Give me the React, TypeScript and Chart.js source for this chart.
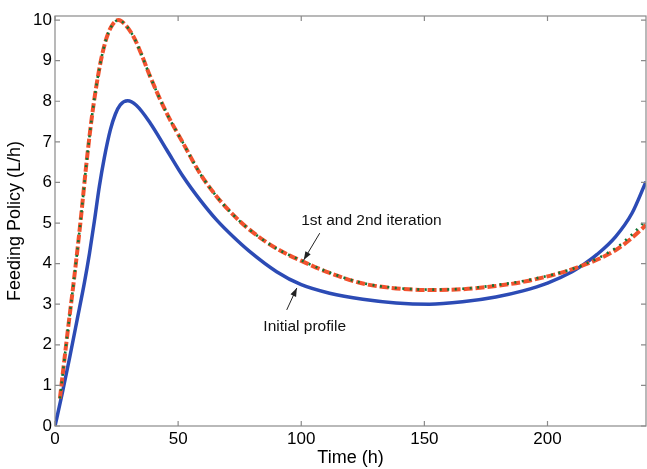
import React, { useEffect, useRef } from "react";
import { Chart, registerables } from "chart.js";

Chart.register(...registerables);

// Time (h) sample points for the initial profile
const timeInitial = [0, 3, 6, 9, 12, 14, 16, 18, 20, 22.5, 24.5, 26.5, 29.5, 33, 38.7, 45.4, 52.1, 58.9, 65.7, 72.4, 79, 90, 100, 111.5, 125, 138.5, 152, 165.5, 179, 190, 200, 210, 214, 220, 227.6, 234.3, 240];
const initialProfile = [0, 0.82, 1.7, 2.62, 3.55, 4.25, 5.05, 5.9, 6.6, 7.3, 7.68, 7.91, 8.01, 7.9, 7.46, 6.8, 6.14, 5.57, 5.07, 4.66, 4.3, 3.8, 3.48, 3.27, 3.12, 3.03, 3.0, 3.06, 3.18, 3.33, 3.52, 3.8, 3.95, 4.22, 4.66, 5.24, 6.02];

// Time (h) sample points for the 1st / 2nd iteration
const timeIter = [2, 5, 7.6, 10.3, 13, 15.5, 18.4, 21.1, 23.5, 25.8, 28, 31.9, 35, 38.7, 45.4, 52.1, 58.9, 65.7, 72.4, 79.1, 90, 100.7, 111.5, 125, 138.5, 152, 165.5, 179, 192.5, 212.8, 227.6, 234, 240];
const iteration1 = [0.68, 2.25, 3.55, 5.0, 6.6, 7.85, 8.93, 9.59, 9.9, 10.0, 9.92, 9.59, 9.17, 8.6, 7.7, 6.96, 6.22, 5.65, 5.2, 4.83, 4.37, 4.05, 3.77, 3.51, 3.39, 3.35, 3.37, 3.45, 3.58, 3.92, 4.33, 4.62, 4.95];
const iteration2 = [0.68, 2.25, 3.55, 5.0, 6.6, 7.85, 8.93, 9.59, 9.9, 10.0, 9.92, 9.59, 9.17, 8.6, 7.7, 6.96, 6.22, 5.65, 5.2, 4.83, 4.37, 4.06, 3.78, 3.52, 3.4, 3.36, 3.38, 3.47, 3.6, 3.93, 4.38, 4.7, 5.07];

const xTicks = [0, 50, 100, 150, 200];
const yTicks = [0, 1, 2, 3, 4, 5, 6, 7, 8, 9, 10];

const labelIter = "1st and 2nd iteration";
const labelInit = "Initial profile";

const pts = (xs: number[], ys: number[]) => xs.map((x, i) => ({ x, y: ys[i] }));

const frame = {
  id: "frame",
  afterDatasetsDraw(chart: any) {
    const { ctx, chartArea: a, scales } = chart;
    const xs = scales.x;
    const ys = scales.y;
    ctx.save();
    ctx.strokeStyle = "#8a8a8a";
    ctx.lineWidth = 1.2;
    ctx.strokeRect(a.left, a.top, a.right - a.left, a.bottom - a.top);
    const L = 5;
    ctx.beginPath();
    xTicks.forEach((v) => {
      const p = xs.getPixelForValue(v);
      ctx.moveTo(p, a.bottom);
      ctx.lineTo(p, a.bottom - L);
      ctx.moveTo(p, a.top);
      ctx.lineTo(p, a.top + L);
    });
    yTicks.forEach((v) => {
      const p = ys.getPixelForValue(v);
      ctx.moveTo(a.left, p);
      ctx.lineTo(a.left + L, p);
      ctx.moveTo(a.right, p);
      ctx.lineTo(a.right - L, p);
    });
    ctx.stroke();

    // annotations
    const X = (v: number) => xs.getPixelForValue(v);
    const Y = (v: number) => ys.getPixelForValue(v);
    ctx.fillStyle = "#111";
    ctx.font = "15.5px 'Liberation Sans', Arial, sans-serif";
    ctx.textAlign = "center";
    ctx.textBaseline = "middle";
    ctx.fillText(labelIter, X(128.5), Y(5.05));
    ctx.fillText(labelInit, X(101.4), Y(2.44));

    const arrow = (x1: number, y1: number, x2: number, y2: number) => {
      const px1 = X(x1), py1 = Y(y1), px2 = X(x2), py2 = Y(y2);
      ctx.strokeStyle = "#222";
      ctx.lineWidth = 1;
      ctx.beginPath();
      ctx.moveTo(px1, py1);
      ctx.lineTo(px2, py2);
      ctx.stroke();
      const ang = Math.atan2(py2 - py1, px2 - px1);
      const h = 9;
      ctx.fillStyle = "#222";
      ctx.beginPath();
      ctx.moveTo(px2, py2);
      ctx.lineTo(px2 - h * Math.cos(ang - 0.35), py2 - h * Math.sin(ang - 0.35));
      ctx.lineTo(px2 - h * Math.cos(ang + 0.35), py2 - h * Math.sin(ang + 0.35));
      ctx.closePath();
      ctx.fill();
    };
    arrow(107.5, 4.75, 101, 4.09);
    arrow(94.1, 2.86, 98.2, 3.4);
    ctx.restore();
  },
};

export default function App() {
  const ref = useRef<HTMLCanvasElement>(null);
  useEffect(() => {
    if (!ref.current) return;
    const font = "'Liberation Sans', Arial, sans-serif";
    const chart = new Chart(ref.current, {
      type: "line",
      data: {
        datasets: [
          {
            label: "Initial profile",
            data: pts(timeInitial, initialProfile),
            borderColor: "#2c4bb5",
            borderWidth: 3.5,
            pointRadius: 0,
            order: 3,
            cubicInterpolationMode: "monotone",
          },
          {
            label: "1st iteration",
            data: pts(timeIter, iteration1),
            borderColor: "#f2522e",
            borderWidth: 4,
            borderDash: [9, 3],
            pointRadius: 0,
            order: 2,
            cubicInterpolationMode: "monotone",
          },
          {
            label: "2nd iteration",
            data: pts(timeIter, iteration2),
            borderColor: "#0f7434",
            borderWidth: 2.6,
            borderDash: [2, 5.5],
            pointRadius: 0,
            order: 1,
            cubicInterpolationMode: "monotone",
          },
        ],
      },
      options: {
        animation: false,
        responsive: false,
        maintainAspectRatio: false,
        layout: { padding: { top: 16, right: 1, left: 0, bottom: 0 } },
        plugins: { legend: { display: false }, tooltip: { enabled: false } },
        scales: {
          x: {
            type: "linear",
            min: 0,
            max: 240,
            afterFit: (s: any) => { s.height = 43; },
            afterBuildTicks: (s: any) => { s.ticks = xTicks.map((v) => ({ value: v })); },
            grid: { display: false, drawTicks: false },
            border: { display: false },
            ticks: { color: "#000", padding: 3, font: { family: font, size: 17 }, maxRotation: 0 },
            title: { display: true, text: "Time (h)", color: "#000", padding: { top: 0, bottom: 0 }, font: { family: font, size: 18 } },
          },
          y: {
            type: "linear",
            min: 0,
            max: 10.1,
            afterFit: (s: any) => { s.width = 55; },
            afterBuildTicks: (s: any) => { s.ticks = yTicks.map((v) => ({ value: v })); },
            grid: { display: false, drawTicks: false },
            border: { display: false },
            ticks: { color: "#000", padding: 3, font: { family: font, size: 17 } },
            title: { display: true, text: "Feeding Policy (L/h)", color: "#000", padding: { top: 4, bottom: 0 }, font: { family: font, size: 18 } },
          },
        },
      },
      plugins: [frame],
    } as any);
    return () => chart.destroy();
  }, []);
  return (
    <div style={{ position: "fixed", left: 0, top: 0, width: 647, height: 469, background: "#fff" }}>
      <canvas ref={ref} width={647} height={469} style={{ width: 647, height: 469 }} />
    </div>
  );
}
